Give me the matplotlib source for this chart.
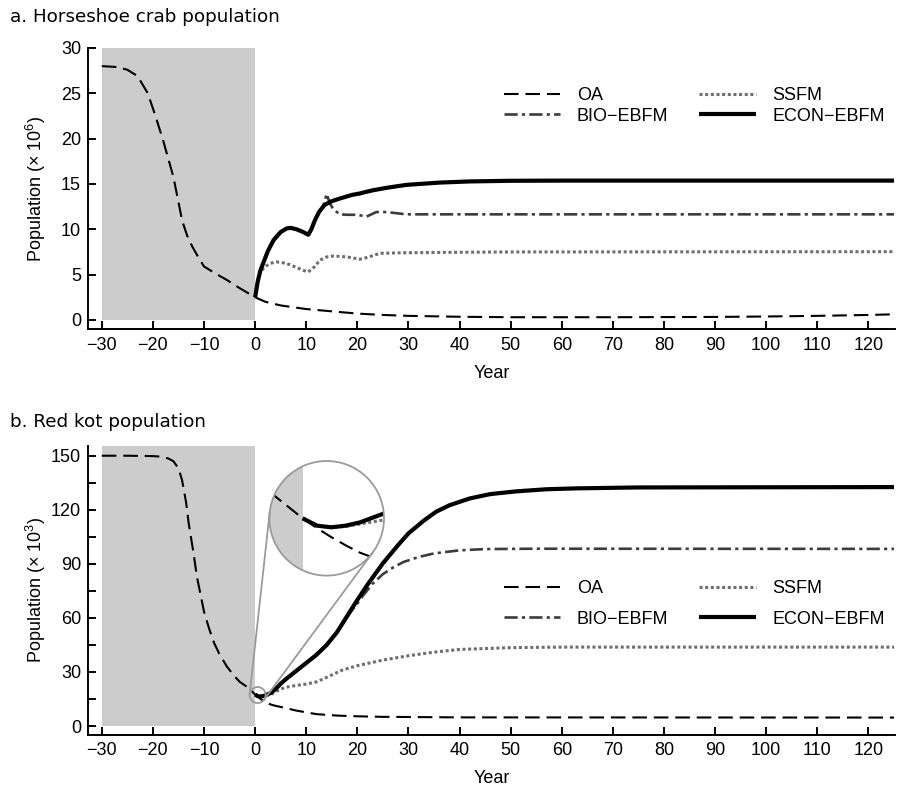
#!/usr/bin/env python3

import numpy as np

from matplotlib import pyplot as plt
from matplotlib.lines import Line2D
from matplotlib.patches import Circle, Ellipse, Rectangle
from matplotlib.ticker import MultipleLocator

plt.rcParams["font.family"] = ["Liberation Sans", "DejaVu Sans"]
plt.rcParams["mathtext.default"] = "regular"

# --- a. horseshoe crab (millions) ---
crab_oa_yr = [-30, -27, -25, -23, -21, -19.5, -18, -17, -16, -15, -14.3, -13.3, -12.3,
              -11, -10, -8, -5.5, -3, 0, 2, 5, 10, 15, 20, 25, 30, 40, 50, 70, 90,
              100, 110, 120, 125]
crab_oa = [28.0, 27.9, 27.6, 26.9, 25.0, 22.5, 19.8, 17.8, 15.8, 13.0, 11.0, 9.3, 8.1,
           6.8, 5.9, 5.2, 4.4, 3.5, 2.5, 2.0, 1.6, 1.2, 0.95, 0.7, 0.55, 0.45, 0.35, 0.3,
           0.3, 0.33, 0.38, 0.45, 0.55, 0.62]

crab_ssfm_yr = [0, 0.5, 1, 2, 3, 4.2, 5.5, 6.8, 8, 9.5, 10.4, 11.5, 12.7, 14, 15.3, 17,
                18.5, 20.5, 22, 24.4, 28, 36, 50, 125]
crab_ssfm = [2.5, 4.3, 5.3, 5.9, 6.25, 6.4, 6.3, 6.1, 5.8, 5.45, 5.3, 5.8, 6.6, 6.95,
             7.05, 7.0, 6.9, 6.7, 6.9, 7.35, 7.4, 7.45, 7.5, 7.53]

crab_bio_yr = [0, 0.5, 1, 1.6, 2.5, 3.6, 5, 6.2, 7, 8.1, 9.2, 10.4, 11, 11.7, 12.5, 13.3,
               14.0, 14.6, 15.3, 16.6, 18, 20, 21.8, 23.7, 25.7, 29.6, 35, 125]
crab_bio = [2.5, 4.2, 5.4, 6.3, 7.6, 8.8, 9.7, 10.1, 10.15, 10.0, 9.75, 9.4, 10.0, 11.0,
            11.9, 12.5, 13.9, 12.9, 12.2, 11.65, 11.6, 11.6, 11.4, 11.9, 11.9, 11.65,
            11.65, 11.65]

crab_econ_yr = [0, 0.5, 1, 1.6, 2.5, 3.6, 5, 6.2, 7, 8.1, 9.2, 10.4, 11, 11.7, 12.5,
                13.6, 15, 16.6, 19, 20.5, 21.5, 23, 26, 29.6, 36, 42, 50, 60, 125]
crab_econ = [2.5, 4.2, 5.4, 6.3, 7.6, 8.8, 9.7, 10.1, 10.15, 10.0, 9.75, 9.4, 10.0, 11.0,
             11.9, 12.7, 13.1, 13.4, 13.8, 13.95, 14.1, 14.3, 14.6, 14.9, 15.15, 15.28,
             15.35, 15.37, 15.37]

# --- b. red knot (thousands) ---
kot_oa_yr = [-30, -25, -20, -18.5, -17, -16, -15, -14.3, -13.5, -13, -12, -11.4, -10, -9,
             -8, -7, -5.5, -4, -3, -1.6, -1, 0, 0.5, 1, 1.5, 2, 3, 4, 5.5, 8, 12, 16,
             20, 25, 40, 125]
kot_oa = [150, 150, 149.8, 149.5, 148.5, 147, 143, 136.5, 124, 112.5, 95, 83, 63.5, 54,
          45.9, 40, 32.9, 27.5, 24.5, 21.8, 20.3, 17.5, 16.3, 15.2, 14.2, 13.3, 12.0,
          11.2, 10.3, 8.6, 6.6, 5.8, 5.4, 5.1, 4.8, 4.7]

kot_ssfm_yr = [0, 0.5, 1, 1.5, 2, 3, 4, 5, 6, 8, 10, 12, 14, 17, 20, 25, 30, 35, 40, 50,
               60, 125]
kot_ssfm = [17.5, 16.6, 16.4, 16.5, 16.8, 17.4, 19.0, 20.5, 21.5, 22.5, 23.3, 24.5, 27,
            31, 33.5, 36.6, 39, 41, 42.5, 43.5, 43.8, 43.8]

kot_bio_yr = [0, 0.5, 1, 1.5, 2, 3, 4, 5, 6, 8, 10, 12, 14, 16, 18, 19, 20, 21, 23, 25,
              27, 29, 32, 35, 40, 45, 55, 125]
kot_bio = [17.5, 16.6, 16.4, 16.6, 17.0, 18.3, 20.5, 23.5, 26, 30.5, 35, 39.5, 45, 52,
           60.5, 64.5, 68, 72, 79, 84.3, 88, 91, 93.8, 95.8, 97.5, 98.2, 98.4, 98.3]

kot_econ_yr = [0, 0.5, 1, 1.5, 2, 3, 4, 5, 6, 8, 10, 12, 14, 16, 18, 20, 22, 25, 28, 30,
               33, 35.4, 38, 42, 46, 51, 57, 63, 75, 125]
kot_econ = [17.5, 16.6, 16.4, 16.6, 17.0, 18.3, 20.5, 23.5, 26, 30.5, 35, 39.5, 45, 52,
            61, 70, 78.5, 90.3, 100.5, 106.9, 114, 118.9, 122.5, 126.3, 128.7, 130.2,
            131.4, 131.9, 132.4, 132.6]

labels = ["OA", "SSFM", "BIO\u2212EBFM", "ECON\u2212EBFM"]
xticks = list(range(-30, 121, 10))

SHADE = "#cccccc"
STYLES = {
    "OA": dict(color="black", lw=1.5, dashes=(7, 3.3)),
    "SSFM": dict(color="#6f6f6f", lw=2.2, dashes=(1.0, 0.85)),
    "BIO": dict(color="#3c3c3c", lw=1.9, dashes=(5, 1.6, 1.2, 1.6)),
    "ECON": dict(color="black", lw=3.0, solid_capstyle="butt"),
}


def style_axes(ax, ylim, yticks, ylabel):
    ax.set_xlim(-32.7, 125.2)
    ax.set_ylim(*ylim)
    ax.set_xticks(xticks)
    ax.set_yticks(yticks)
    for side in ("top", "right"):
        ax.spines[side].set_visible(False)
    for side in ("left", "bottom"):
        ax.spines[side].set_linewidth(1.4)
    ax.tick_params(direction="in", length=6, width=1.4, labelsize=13)
    ax.tick_params(axis="x", pad=5.5)
    ax.tick_params(axis="y", pad=5)
    ax.set_xlabel("Year", fontsize=13, labelpad=8)
    ax.set_ylabel(ylabel, fontsize=13)
    ax.yaxis.set_label_coords(-0.050, 0.5)


def draw_series(ax, data):
    keys = ["OA", "SSFM", "BIO", "ECON"]
    for key, label, (xs, ys) in zip(keys, labels, data):
        ax.plot(xs, ys, label=label, zorder=3 + keys.index(key), **STYLES[key])


def add_legend(ax, anchor, spacing):
    h, l = ax.get_legend_handles_labels()
    order = [0, 2, 1, 3]
    ax.legend([h[i] for i in order], [l[i] for i in order], ncol=2, frameon=False,
              loc="upper left", bbox_to_anchor=anchor, borderaxespad=0, borderpad=0,
              fontsize=13, handlelength=3.15, handletextpad=0.9, columnspacing=1.7,
              labelspacing=spacing)


def tangents(c1, r1, c2, r2):
    d = c2 - c1
    dist = np.hypot(*d)
    v = d / dist
    c = (r1 - r2) / dist
    h = np.sqrt(1 - c * c)
    perp = np.array([-v[1], v[0]])
    out = []
    for s in (1, -1):
        n = c * v + s * h * perp
        out.append((c1 + r1 * n, c2 + r2 * n))
    return out


fig = plt.figure(figsize=(8.98, 7.89), dpi=100)
W, H = 898.0, 789.0

ax_a = fig.add_axes([88 / W, 1 - 329 / H, 807 / W, 281 / H])
ax_a.add_patch(Rectangle((-30, 0), 30, 30, color=SHADE, lw=0, zorder=1))
draw_series(ax_a, [(crab_oa_yr, crab_oa), (crab_ssfm_yr, crab_ssfm),
                   (crab_bio_yr, crab_bio), (crab_econ_yr, crab_econ)])
style_axes(ax_a, (-1, 30), range(0, 31, 5), "Population (\u00d7 10$^{6}$)")
add_legend(ax_a, (0.515, 0.861), 0.2)

ax_b = fig.add_axes([88 / W, 1 - 734.5 / H, 807 / W, 288.5 / H])
ax_b.add_patch(Rectangle((-30, 0), 30, 155.4, color=SHADE, lw=0, zorder=1))
draw_series(ax_b, [(kot_oa_yr, kot_oa), (kot_ssfm_yr, kot_ssfm),
                   (kot_bio_yr, kot_bio), (kot_econ_yr, kot_econ)])
style_axes(ax_b, (-4.7, 155.4), range(0, 151, 30), "Population (\u00d7 10$^{3}$)")
ax_b.yaxis.set_minor_locator(MultipleLocator(15))
ax_b.tick_params(which="minor", direction="in", length=6, width=1.4)
add_legend(ax_b, (0.515, 0.535), 0.75)

fig.text(10 / W, 1 - 17 / H, "a. Horseshoe crab population", family="DejaVu Sans",
         fontsize=13.2, va="center", ha="left")
fig.text(10 / W, 1 - 422 / H, "b. Red kot population", family="DejaVu Sans",
         fontsize=13.2, va="center", ha="left")

# magnified view around year 0 of panel b
zoom_c = np.array([0.49, 17.2])
zoom_r = 8.0
ax_b.add_patch(Ellipse(zoom_c, 2 * zoom_r / ax_b.transData.get_matrix()[0, 0],
                       2 * zoom_r / ax_b.transData.get_matrix()[1, 1],
                       fill=False, ec="#9a9a9a", lw=1.3, zorder=8))

big_c = np.array([326.7, H - 518.3])
big_r = 57.3
ins = fig.add_axes([(big_c[0] - big_r) / W, (big_c[1] - big_r) / H,
                    2 * big_r / W, 2 * big_r / H])
ins.set_xlim(-1.16, 2.84)
ins.set_ylim(10.5, 24.5)
ins.axis("off")
clip = Circle((0.5, 0.5), 0.5, transform=ins.transAxes)
arts = [ins.add_patch(Circle((0.5, 0.5), 0.5, transform=ins.transAxes, fc="white",
                             ec="none", zorder=0)),
        ins.add_patch(Rectangle((-1.16, 10.5), 1.16, 14, color=SHADE, lw=0, zorder=1))]
arts += ins.plot(kot_oa_yr, kot_oa, zorder=3, **STYLES["OA"])
arts += ins.plot(kot_ssfm_yr, kot_ssfm, zorder=4, **STYLES["SSFM"])
arts += ins.plot(kot_econ_yr, kot_econ, zorder=5, **STYLES["ECON"])
for a in arts:
    a.set_clip_path(clip)
ins.add_patch(Circle((0.5, 0.5), 0.5, transform=ins.transAxes, fill=False,
                     ec="#9a9a9a", lw=1.3, zorder=10, clip_on=False))

small_c = ax_b.transData.transform(zoom_c)
to_fig = fig.transFigure.inverted()
for p1, p2 in tangents(small_c, zoom_r, big_c, big_r):
    q1, q2 = to_fig.transform(p1), to_fig.transform(p2)
    fig.add_artist(Line2D([q1[0], q2[0]], [q1[1], q2[1]], transform=fig.transFigure,
                          color="#9a9a9a", lw=1.3, zorder=5))

fig.savefig("out.png", dpi=100)
